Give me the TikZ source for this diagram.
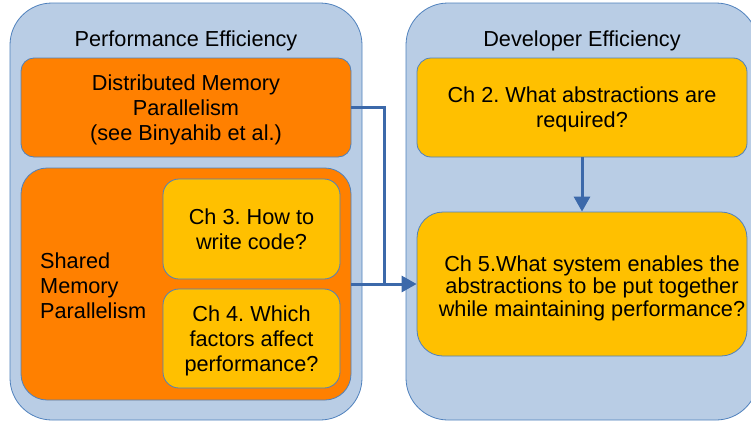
\documentclass[tikz,border=0pt]{standalone}
\usepackage{fontspec}
\setmainfont{Liberation Sans}
\usetikzlibrary{arrows.meta}
\definecolor{panelfill}{RGB}{185,205,229}
\definecolor{panelline}{RGB}{79,129,189}
\definecolor{orangefill}{RGB}{255,128,0}
\definecolor{yellowfill}{RGB}{255,192,0}
\definecolor{linkblue}{RGB}{60,105,170}
\begin{document}
\frenchspacing
\begin{tikzpicture}[x=1pt,y=-1pt,
  every node/.style={font=\fontsize{21.7}{25}\selectfont\frenchspacing, text=black, text depth=0pt},
  panel/.style={draw=panelline, line width=0.8pt, fill=panelfill, rounded corners=42pt, minimum width=352pt, minimum height=417pt, inner sep=0pt},
  orangebox/.style={draw=panelline, line width=0.8pt, fill=orangefill, align=center, inner sep=0pt},
  yellowbox/.style={draw=panelline, line width=0.8pt, fill=yellowfill, align=center, inner sep=0pt},
  title/.style={inner sep=0pt},
  link/.style={draw=linkblue, line width=3pt},
  tip/.style={-{Triangle[length=15pt,width=16pt]}}
]
\clip (0,0) rectangle (751,423);
\fill[white] (0,0) rectangle (751,423);

% containers
\node[panel] (perf) at (186,211.5) {};
\node[panel] (dev) at (582,211.5) {};
\node[title] (perftitle) at (186,38.5) {Performance Efficiency};
\node[title] (devtitle) at (582,38.5) {Developer Efficiency};

% performance side
\node[orangebox, minimum width=330pt, minimum height=99pt, rounded corners=13pt] (dist) at (186,107.5)
  {Distributed Memory\\Parallelism\\(see Binyahib et al.)};
\node[orangebox, minimum width=330pt, minimum height=232pt, rounded corners=26pt] (shared) at (186,284) {};
\node[inner sep=0pt, anchor=west, align=left] (sharedtext) at (40,286) {Shared\\Memory\\Parallelism};
\node[yellowbox, minimum width=177pt, minimum height=100pt, rounded corners=16pt] (ch3) at (251.5,229)
  {Ch 3. How to\\write code?};
\node[yellowbox, minimum width=177pt, minimum height=99pt, rounded corners=16pt] (ch4) at (251.5,338.5)
  {Ch 4. Which\\factors affect\\performance?};

% developer side
\node[yellowbox, minimum width=330pt, minimum height=99pt, rounded corners=14pt] (ch2) at (582,107.5)
  {Ch 2. What abstractions are\\required?};
\node[yellowbox, minimum width=330pt, minimum height=144pt, rounded corners=26pt] (ch5) at (582,284) {};
\node[inner sep=0pt, align=center, font=\fontsize{21.7}{22.5}\selectfont\frenchspacing] (ch5text) at (592,286)
  {Ch 5.What system enables the\\abstractions to be put together\\while maintaining performance?};

% connectors
\coordinate (join) at (384,284);
\draw[link] (dist.east) -| (join);
\draw[link, tip] (shared.east) -- (ch5.west);
\draw[link, tip] (ch2.south) -- (ch5.north);
\end{tikzpicture}
\end{document}
